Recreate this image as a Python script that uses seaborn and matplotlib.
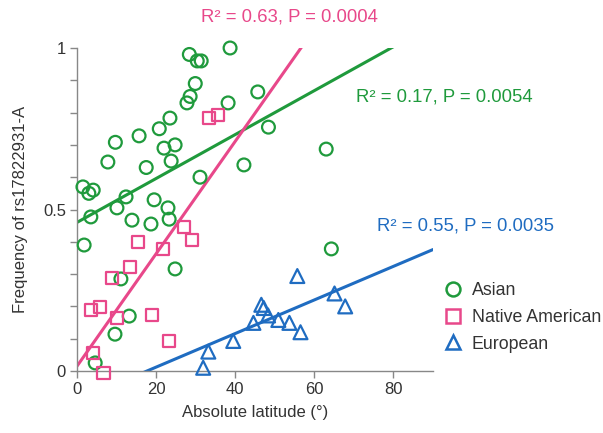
import numpy as np
import pandas as pd
import matplotlib
matplotlib.use("Agg")
import matplotlib.pyplot as plt
from matplotlib.lines import Line2D
import seaborn as sns

# ---- data ----
asian_lat = [1.5, 3.0, 4.1, 3.5, 1.8, 7.8, 9.7, 10.1, 12.4, 13.9, 15.7, 17.5, 18.7, 19.5,
             20.8, 22.0, 23.5, 24.8, 23.8, 23.0, 23.3, 27.8, 28.6, 29.9, 28.4, 30.4, 31.4,
             38.7, 38.2, 31.1, 42.2, 45.7, 48.4, 63.0, 64.3, 11.1, 24.8, 13.2, 9.6, 4.6]
asian_freq = [0.57, 0.55, 0.56, 0.477, 0.39, 0.647, 0.708, 0.505, 0.539, 0.467, 0.728, 0.63,
              0.455, 0.53, 0.75, 0.69, 0.783, 0.70, 0.65, 0.505, 0.47, 0.83, 0.85, 0.89, 0.98,
              0.96, 0.96, 1.0, 0.83, 0.60, 0.638, 0.864, 0.755, 0.687, 0.378, 0.285, 0.316,
              0.17, 0.114, 0.025]

native_lat = [27.1, 29.1, 15.4, 21.8, 13.4, 8.9, 5.8, 3.5, 10.1, 19.0, 23.3, 4.0, 6.7, 33.4, 35.7]
native_freq = [0.446, 0.406, 0.399, 0.378, 0.322, 0.288, 0.199, 0.189, 0.164, 0.173, 0.093,
               0.056, -0.006, 0.783, 0.793]

euro_lat = [31.9, 33.2, 39.5, 44.6, 46.6, 47.2, 48.3, 50.9, 53.7, 56.5, 55.7, 65.1, 67.8]
euro_freq = [0.01, 0.06, 0.093, 0.149, 0.205, 0.195, 0.172, 0.158, 0.149, 0.12, 0.294, 0.24, 0.2]

groups = ["Asian", "Native American", "European"]
fit_intercept = [0.46, 0.015, -0.092]
fit_slope = [0.0068, 0.0174, 0.0052]
stat_labels = ["R\u00b2 = 0.17, P = 0.0054", "R\u00b2 = 0.63, P = 0.0004", "R\u00b2 = 0.55, P = 0.0035"]

x_ticks = [0, 20, 40, 60, 80]
y_ticks = [0, 0.1, 0.2, 0.3, 0.4, 0.5, 0.6, 0.7, 0.8, 0.9, 1.0]
y_tick_labels = ["0", "", "", "", "", "0.5", "", "", "", "", "1"]

# ---- style ----
colors = {"Asian": "#1f9a3c", "Native American": "#e8488a", "European": "#1f6cc1"}
markers = {"Asian": "o", "Native American": "s", "European": "^"}
sizes = {"Asian": 85, "Native American": 75, "European": 100}

sns.set_theme(style="ticks")
plt.rcParams["font.family"] = ["Liberation Sans", "DejaVu Sans"]

df = pd.DataFrame({
    "lat": asian_lat + native_lat + euro_lat,
    "freq": asian_freq + native_freq + euro_freq,
    "group": ["Asian"] * len(asian_lat) + ["Native American"] * len(native_lat)
             + ["European"] * len(euro_lat),
})

fig = plt.figure(figsize=(6.03, 4.33), dpi=100)
ax = fig.add_axes([77 / 603, 1 - 371 / 433, (433 - 77) / 603, (371 - 48) / 433])

for g in groups:
    sub = df[df["group"] == g]
    sns.scatterplot(data=sub, x="lat", y="freq", marker=markers[g], s=sizes[g],
                    color=colors[g], linewidth=1.6, ax=ax, legend=False, zorder=3)
    coll = ax.collections[-1]
    coll.set_facecolor("none")
    coll.set_edgecolor(colors[g])
    coll.set_clip_on(False)

xs = np.array([0.0, 90.0])
for g, b0, b1 in zip(groups, fit_intercept, fit_slope):
    sns.lineplot(x=xs, y=b0 + b1 * xs, color=colors[g], linewidth=2.2, ax=ax, zorder=2)

ax.set_xlim(0, 90)
ax.set_ylim(0, 1)
ax.set_xticks(x_ticks)
ax.set_yticks(y_ticks)
ax.set_yticklabels(y_tick_labels)
ax.tick_params(axis="both", which="major", direction="out", length=5, width=1,
               color="#888888", labelsize=12, labelcolor="#333333", pad=3,
               left=True, bottom=True)
ax.tick_params(axis="both", which="minor", left=False, bottom=False)
for side in ["top", "right"]:
    ax.spines[side].set_visible(False)
for side in ["left", "bottom"]:
    ax.spines[side].set_color("#888888")
    ax.spines[side].set_linewidth(1)

ax.set_xlabel("Absolute latitude (\u00b0)", fontsize=12, color="#333333", labelpad=6)
ax.set_ylabel("Frequency of rs17822931-A", fontsize=12, color="#333333", labelpad=11)

# stat annotations
fs = 13.3
ax.text(53.8, 1.096, stat_labels[1], color=colors["Native American"], fontsize=fs,
        ha="center", va="center", clip_on=False)
ax.text(92.8, 0.848, stat_labels[0], color=colors["Asian"], fontsize=fs,
        ha="center", va="center", clip_on=False)
ax.text(98.3, 0.449, stat_labels[2], color=colors["European"], fontsize=fs,
        ha="center", va="center", clip_on=False)

handles = [Line2D([], [], linestyle="none", marker=markers[g], markersize=10,
                  markerfacecolor="none", markeredgecolor=colors[g], markeredgewidth=1.8)
           for g in groups]
leg = fig.legend(handles, groups, loc="upper left", bbox_to_anchor=(444 / 603, 1 - 282 / 433),
                 frameon=False, fontsize=12.8, handlelength=1.0, handletextpad=0.55,
                 labelspacing=0.55, borderpad=0, borderaxespad=0)
for t in leg.get_texts():
    t.set_color("#333333")

fig.savefig("out.png", dpi=100)
